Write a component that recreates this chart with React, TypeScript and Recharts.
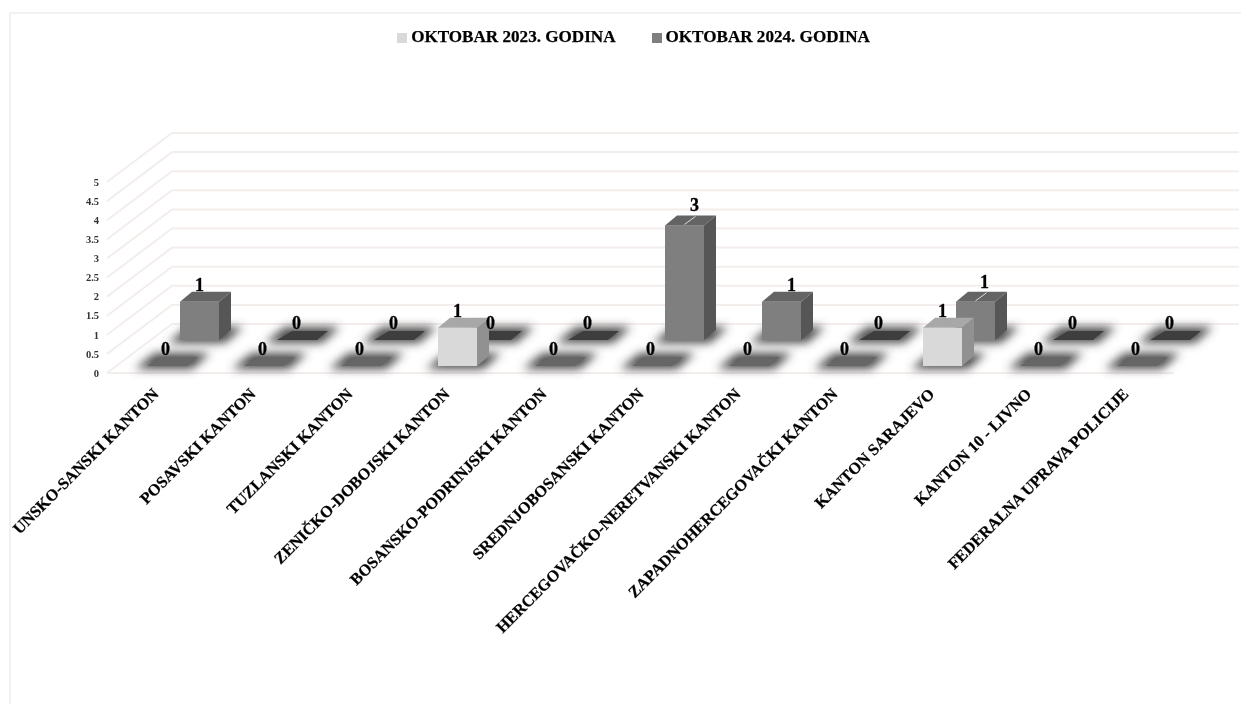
import React from 'react';
import { BarChart, Bar, XAxis, YAxis, CartesianGrid, Legend, LabelList } from 'recharts';

const categories = [
  'UNSKO-SANSKI KANTON',
  'POSAVSKI KANTON',
  'TUZLANSKI KANTON',
  'ZENIČKO-DOBOJSKI KANTON',
  'BOSANSKO-PODRINJSKI KANTON',
  'SREDNJOBOSANSKI KANTON',
  'HERCEGOVAČKO-NERETVANSKI KANTON',
  'ZAPADNOHERCEGOVAČKI KANTON',
  'KANTON SARAJEVO',
  'KANTON 10 - LIVNO',
  'FEDERALNA UPRAVA POLICIJE',
];
const oktobar2023 = [0, 0, 0, 1, 0, 0, 0, 0, 1, 0, 0];
const oktobar2024 = [1, 0, 0, 0, 0, 3, 1, 0, 1, 0, 0];
const yTicks = [0, 0.5, 1, 1.5, 2, 2.5, 3, 3.5, 4, 4.5, 5];

const data = categories.map((name, i) => ({
  name,
  y2023: oktobar2023[i],
  y2024: oktobar2024[i],
}));

const FONT = '"Liberation Serif", serif';
const GRID = '#f3eeec';

// depth of the fake 3D box and of the wall behind the bars
const BOX_X = 12;
const BOX_Y = 10;
const WALL_X = 65;
const WALL_Y = 49;

const FRONT = { dx: 11, dy: -7, face: '#d9d9d9', top: '#a8a8a8', side: '#919191', flat: '#666666' };
const BACK = { dx: 44, dy: -33, face: '#7f7f7f', top: '#646464', side: '#565656', flat: '#3e3e3e' };

function pts(list: number[][]) {
  return list.map((p) => p.join(',')).join(' ');
}

function Box3D(props: any) {
  const { x, y, width, height, look } = props;
  const left = x + look.dx;
  const right = left + width;
  const top = y + look.dy;
  const base = top + height;
  return (
    <g>
      <polygon
        points={pts([
          [left - 12, base + 3],
          [right + 6, base + 3],
          [right + 24, base - 13],
          [left + 8, base - 13],
        ])}
        fill="#4a4a4a"
        filter="url(#floorShadow)"
      />
      {height > 0 ? (
        <>
          <rect x={left} y={top} width={width} height={height} fill={look.face} />
          <polygon
            points={pts([
              [left, top],
              [right, top],
              [right + BOX_X, top - BOX_Y],
              [left + BOX_X, top - BOX_Y],
            ])}
            fill={look.top}
          />
          <polygon
            points={pts([
              [right, top],
              [right + BOX_X, top - BOX_Y],
              [right + BOX_X, base - BOX_Y],
              [right, base],
            ])}
            fill={look.side}
          />
        </>
      ) : (
        <polygon
          points={pts([
            [left, base],
            [right + 1, base],
            [right + 12, base - 9],
            [left + 15, base - 9],
          ])}
          fill={look.flat}
        />
      )}
    </g>
  );
}

// labels moved by hand in the original, with a small leader line on two of them
const moved2024: Record<number, { x: number; y: number; line?: boolean }> = {
  5: { x: 10, y: -4, line: true },
  6: { x: 10, y: 0 },
  8: { x: 9, y: -3, line: true },
};

function ValueLabel(props: any) {
  const { x, y, width, value, index, look, shifts } = props;
  const shift = shifts?.[index] || { x: 0, y: 0 };
  const cx = x + look.dx + width / 2;
  const top = y + look.dy;
  return (
    <g>
      {shift.line && (
        <line x1={cx} y1={top - 1} x2={cx + 11} y2={top - 9} stroke="#e6dcd6" strokeWidth={1} />
      )}
      <text
        x={cx + shift.x - (value === 0 && look === FRONT ? 1 : 0)}
        y={top - 17 + shift.y}
        dy="0.35em"
        textAnchor="middle"
        fontFamily={FONT}
        fontWeight="bold"
        fontSize={18}
        stroke="#000"
        strokeWidth={0.3}
        fill="#000"
      >
        {value}
      </text>
    </g>
  );
}

function CategoryTick(props: any) {
  const { x, y, payload } = props;
  const tx = x + 4;
  const ty = y + 14;
  return (
    <text
      x={tx}
      y={ty}
      transform={`rotate(-45 ${tx} ${ty})`}
      textAnchor="end"
      fontFamily={FONT}
      fontWeight="bold"
      fontSize={16.2}
      stroke="#000"
      strokeWidth={0.25}
      fill="#000"
    >
      {payload.value}
    </text>
  );
}

function WallLine(props: any) {
  const { x1, y1, x2 } = props;
  const isFloor = Math.abs(y1 - 373) < 1;
  return (
    <g>
      <polyline
        points={pts([
          [x1, y1],
          [x1 + WALL_X, y1 - WALL_Y],
          [x2 + WALL_X, y1 - WALL_Y],
        ])}
        fill="none"
        stroke={GRID}
        strokeWidth={2}
      />
      {isFloor && <line x1={x1} y1={y1} x2={x2} y2={y1} stroke={GRID} strokeWidth={2} />}
    </g>
  );
}

function legendText(value: string) {
  return (
    <span
      style={{
        color: '#000',
        fontFamily: FONT,
        fontWeight: 'bold',
        fontSize: 17.1,
        WebkitTextStroke: '0.25px #000',
        marginRight: 26,
      }}
    >
      {value}
    </span>
  );
}

export default function App() {
  return (
    <div style={{ position: 'absolute', left: 0, top: 0, width: 1241, height: 704, background: '#fff', overflow: 'hidden', filter: 'blur(0.4px)' }}>
      <div style={{ position: 'absolute', left: 9, top: 12, width: 1232, height: 692, borderLeft: '2px solid #f3f0f0', borderTop: '2px solid #f3f0f0' }} />
      <svg width={0} height={0} style={{ position: 'absolute' }}>
        <defs>
          <filter id="floorShadow" x="-50%" y="-100%" width="200%" height="300%">
            <feGaussianBlur stdDeviation="5" />
          </filter>
        </defs>
      </svg>
      <div style={{ position: 'absolute', left: 0, top: 0 }}>
        <BarChart
          width={1241}
          height={704}
          data={data}
          barSize={39}
          barGap={-39}
          margin={{ top: 182, right: 67, bottom: 0, left: 67 }}
        >
          <CartesianGrid
            vertical={false}
            horizontalValues={yTicks}
            horizontal={(p: any) => <WallLine {...p} />}
          />
          <XAxis
            dataKey="name"
            interval={0}
            height={331}
            axisLine={false}
            tickLine={false}
            tick={(p: any) => <CategoryTick {...p} />}
          />
          <YAxis
            width={40}
            domain={[0, 5]}
            ticks={yTicks}
            interval={0}
            axisLine={false}
            tickLine={false}
            tickSize={0}
            tickMargin={8}
            tick={{ fontFamily: FONT, fontWeight: 'bold', fontSize: 10.5, fill: '#333' }}
          />
          <Legend
            verticalAlign="middle"
            align="center"
            iconType="square"
            iconSize={10}
            formatter={legendText}
            wrapperStyle={{ top: 27, left: 31, width: 1241 }}
          />
          <Bar
            dataKey="y2024"
            name="OKTOBAR 2024. GODINA"
            fill="#7f7f7f"
            isAnimationActive={false}
            shape={(p: any) => <Box3D {...p} look={BACK} />}
          >
            <LabelList content={(p: any) => <ValueLabel {...p} look={BACK} shifts={moved2024} />} />
          </Bar>
          <Bar
            dataKey="y2023"
            name="OKTOBAR 2023. GODINA"
            fill="#d9d9d9"
            isAnimationActive={false}
            shape={(p: any) => <Box3D {...p} look={FRONT} />}
          >
            <LabelList content={(p: any) => <ValueLabel {...p} look={FRONT} />} />
          </Bar>
        </BarChart>
      </div>
    </div>
  );
}
